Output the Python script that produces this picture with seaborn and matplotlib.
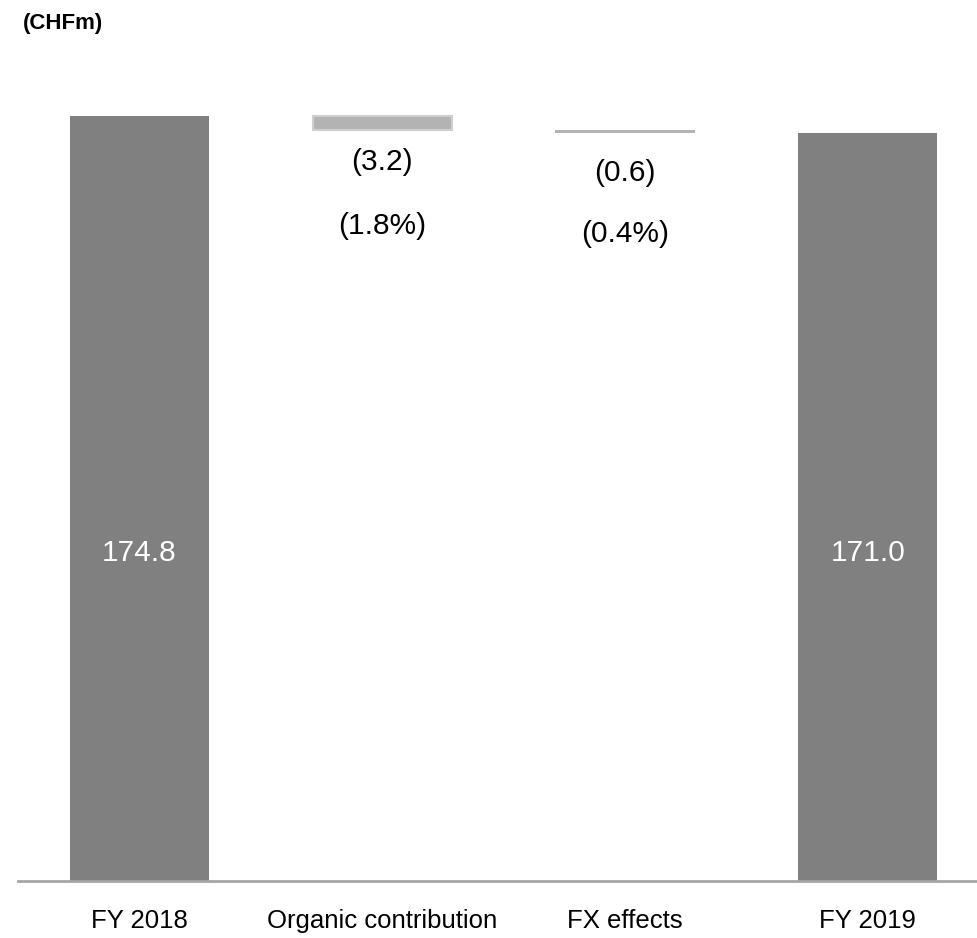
import matplotlib
matplotlib.use("Agg")
import matplotlib.pyplot as plt
import seaborn as sns
import pandas as pd
from matplotlib import font_manager

# Waterfall data (CHFm)
categories = ["FY 2018", "Organic contribution", "FX effects", "FY 2019"]
start_value = 174.8
changes = [-3.2, -0.6]
end_value = 171.0
change_labels = ["(3.2)", "(0.6)"]
pct_labels = ["(1.8%)", "(0.4%)"]
total_labels = ["174.8", "171.0"]

# Build bar heights and bottoms for the waterfall
running = start_value
heights = [start_value]
bottoms = [0.0]
for c in changes:
    heights.append(abs(c))
    bottoms.append(running + c if c < 0 else running)
    running += c
heights.append(end_value)
bottoms.append(0.0)

df = pd.DataFrame({"category": categories, "height": heights, "bottom": bottoms})

installed = {f.name for f in font_manager.fontManager.ttflist}
narrow = "Liberation Sans Narrow" if "Liberation Sans Narrow" in installed else "Liberation Sans"
fs = 21 if narrow == "Liberation Sans Narrow" else 18.5
fs_val = 24 if narrow == "Liberation Sans Narrow" else 21.5

sns.set_theme(style="white")
plt.rcParams["font.family"] = [narrow, "DejaVu Sans"]

fig = plt.figure(figsize=(9.77, 9.38), dpi=100)
ax = fig.add_axes([18 / 977, (938 - 881) / 938, (977 - 18) / 977, (881 - 100) / 938])

colors = {"FY 2018": "#808080", "Organic contribution": "#b3b3b3",
          "FX effects": "#b3b3b3", "FY 2019": "#808080"}
sns.barplot(data=df, x="category", y="height", hue="category", palette=colors,
            dodge=False, legend=False, width=0.573, saturation=1, ax=ax, linewidth=0)

# lift the step bars to float at their running totals
for patch in ax.patches:
    idx = int(round(patch.get_x() + patch.get_width() / 2))
    patch.set_y(df["bottom"][idx])
    if categories[idx] == "Organic contribution":
        patch.set_edgecolor("#cfcfcf")
        patch.set_linewidth(1.5)

ymax = 178.5
px = ymax / 781.0  # data units per pixel
ax.set_ylim(0, ymax)
ax.set_xlim(-0.5, 3.45)

# totals inside bars
ax.text(0, 75, total_labels[0], ha="center", va="center", color="white", fontsize=fs_val)
ax.text(3, 75, total_labels[1], ha="center", va="center", color="white", fontsize=fs_val)

# change labels below the step bars (pixel offsets below each bar)
offsets = [(32, 96), (40, 101)]
for i, (cl, pl) in enumerate(zip(change_labels, pct_labels), start=1):
    b = df["bottom"][i]
    o1, o2 = offsets[i - 1]
    ax.text(i, b - o1 * px, cl, ha="center", va="center", color="black", fontsize=fs_val)
    ax.text(i, b - o2 * px, pl, ha="center", va="center", color="black", fontsize=fs_val)

ax.set_xlabel("")
ax.set_ylabel("")
ax.set_yticks([])
ax.tick_params(axis="x", length=0, pad=20, labelsize=fs, colors="black")
for s in ["top", "right", "left"]:
    ax.spines[s].set_visible(False)
ax.spines["bottom"].set_color("#a6a6a6")
ax.spines["bottom"].set_linewidth(2)

fig.text(23 / 977, 1 - 23 / 938, "(CHFm)", ha="left", va="center",
         fontsize=16, fontweight="bold", color="black")

fig.savefig("out.png", dpi=100, facecolor="white")
